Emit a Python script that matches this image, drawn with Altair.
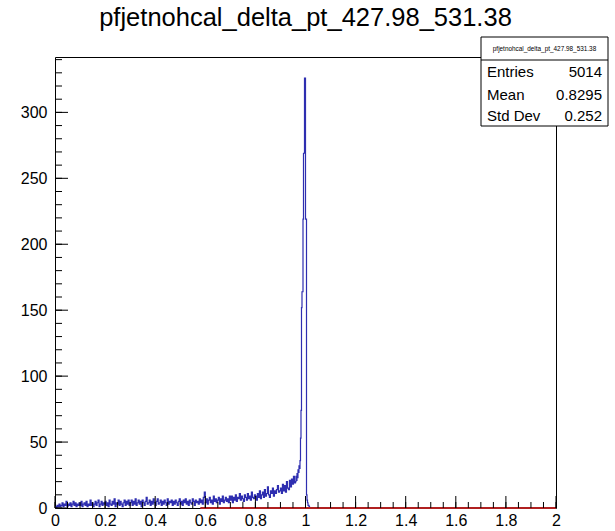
import altair as alt
import pandas as pd

# ---------------- data ----------------
hist_title = "pfjetnohcal_delta_pt_427.98_531.38"

# bins of width 0.004 from 0.00 to 0.96 (bin heights)
coarse_width = 0.004
coarse_counts = [
    1, 0, 2, 1, 3, 1, 2, 4, 1, 3, 2, 5, 1, 3, 2, 4, 1, 3, 5, 2, 4, 1, 3, 2, 4,
    2, 5, 1, 3, 4, 2, 5, 1, 3, 2, 6, 2, 4, 1, 3, 5, 2, 4, 6, 1, 3, 5, 2, 4, 3,
    5, 2, 4, 1, 6, 3, 2, 5, 3, 7, 1, 4, 3, 6, 2, 5, 3, 1, 4, 6, 2, 5, 3, 6, 2,
    4, 6, 2, 5, 3, 7, 2, 4, 6, 3, 5, 1, 6, 4, 2, 5, 8, 3, 4, 6, 2, 5, 3, 7, 4,
    2, 5, 7, 3, 4, 6, 2, 5, 3, 6, 4, 2, 7, 3, 5, 4, 6, 2, 5, 3, 6, 4, 2, 5, 7,
    3, 5, 2, 6, 4, 7, 3, 5, 2, 6, 4, 3, 7, 5, 2, 6, 4, 5, 3, 7, 4, 6, 3, 8, 12,
    4, 7, 3, 6, 8, 4, 6, 3, 9, 5, 7, 4, 6, 8, 3, 7, 5, 9, 4, 6, 8, 5, 7, 4, 9,
    6, 9, 4, 8, 6, 10, 5, 8, 7, 11, 6, 9, 7, 5, 10, 8, 6, 11, 7, 9, 6, 12, 8, 7, 10,
    9, 6, 11, 8, 13, 7, 10, 12, 8, 14, 9, 11, 16, 10, 8, 13, 11, 15, 9, 13, 11, 14, 17, 12, 13,
    15, 11, 18, 13, 17, 12, 20, 15, 14, 21, 16, 22, 18, 24, 19,
]
# bins of width 0.002 from 0.96 to 1.02 (peak region)
fine_start = 0.96
fine_width = 0.002
fine_counts = [
    20, 24, 21, 26, 23, 29, 27, 32, 30, 36,
    53, 74, 152, 164, 164, 219, 269, 269, 326, 326,
    219, 219, 10, 6, 4, 2, 2, 1, 0, 0,
]
x_min, x_max = 0.0, 2.0
y_max = 342

# red line lying on the x axis
red_x = [0.58, 2.0]
red_y = [0, 0]

# axis ticks / labels
x_major = [0, 0.2, 0.4, 0.6, 0.8, 1.0, 1.2, 1.4, 1.6, 1.8, 2.0]
x_minor = [i * 0.05 for i in range(41)]
y_major = [0, 50, 100, 150, 200, 250, 300]
y_minor = [i * 10 for i in range(35)]

# stats box
stat_names = ["Entries", "Mean", "Std Dev"]
stat_values = ["5014", "0.8295", "0.252"]

# ---------------- build ----------------
W, H = 501, 451
FONT = "Liberation Sans"

xs, ys = [], []
for i, c in enumerate(coarse_counts):
    xs.append(i * coarse_width)
    ys.append(c)
for i, c in enumerate(fine_counts):
    xs.append(fine_start + i * fine_width)
    ys.append(c)
xs.append(fine_start + len(fine_counts) * fine_width)
ys.append(0)
xs.append(x_max)
ys.append(0)
hist = pd.DataFrame({"x": xs, "y": ys})

xscale = alt.Scale(domain=[x_min, x_max], nice=False, zero=False)
yscale = alt.Scale(domain=[0, y_max], nice=False)

xaxis = alt.Axis(values=x_major, format="~g", title=None, grid=False, ticks=False,
                 domain=False, labelFont=FONT, labelFontSize=16, labelColor="black",
                 labelPadding=4, labelFlush=False, labelOverlap=False, labelBound=False)
yaxis = alt.Axis(values=y_major, format="d", title=None, grid=False, ticks=False,
                 domain=False, labelFont=FONT, labelFontSize=16, labelColor="black",
                 labelPadding=8, labelFlush=False, labelOverlap=False, labelBound=False)

line = alt.Chart(hist).mark_line(interpolate="step-after", color="#2e2eb0", strokeWidth=1.2).encode(
    x=alt.X("x:Q", scale=xscale, axis=xaxis),
    y=alt.Y("y:Q", scale=yscale, axis=yaxis),
)

red = alt.Chart(pd.DataFrame({"x": red_x, "y": red_y})).mark_line(color="#b02020", strokeWidth=2).encode(
    x=alt.X("x:Q", scale=xscale), y=alt.Y("y:Q", scale=yscale)
)

xmaj = alt.Chart(pd.DataFrame({"v": x_major})).mark_rule(color="black", strokeWidth=1).encode(
    x=alt.X("v:Q", scale=xscale), y=alt.value(H), y2=alt.value(H - 12)
)
xmin_ = alt.Chart(pd.DataFrame({"v": x_minor})).mark_rule(color="black", strokeWidth=1).encode(
    x=alt.X("v:Q", scale=xscale), y=alt.value(H), y2=alt.value(H - 6)
)
ymaj = alt.Chart(pd.DataFrame({"v": y_major})).mark_rule(color="black", strokeWidth=1).encode(
    y=alt.Y("v:Q", scale=yscale), x=alt.value(0), x2=alt.value(13)
)
ymin_ = alt.Chart(pd.DataFrame({"v": y_minor})).mark_rule(color="black", strokeWidth=1).encode(
    y=alt.Y("v:Q", scale=yscale), x=alt.value(0), x2=alt.value(7)
)

one = pd.DataFrame({"a": [0]})
box_l, box_r, box_t, box_b = 426, 553, -20, 69
box = alt.Chart(one).mark_rect(fill="white", stroke="black", strokeWidth=1).encode(
    x=alt.value(box_l), x2=alt.value(box_r), y=alt.value(box_t), y2=alt.value(box_b)
)
sep = alt.Chart(one).mark_rule(color="black", strokeWidth=1).encode(
    x=alt.value(box_l), x2=alt.value(box_r), y=alt.value(3)
)
head = alt.Chart(pd.DataFrame({"t": [hist_title]})).mark_text(
    font=FONT, fontSize=6.4, align="center", baseline="middle", color="black"
).encode(text="t:N", x=alt.value((box_l + box_r) / 2), y=alt.value(-8))

row_y = [15, 38, 59]
stat_layers = []
for name, val, ry in zip(stat_names, stat_values, row_y):
    d = pd.DataFrame({"name": [name], "val": [val]})
    stat_layers.append(
        alt.Chart(d).mark_text(font=FONT, fontSize=15, align="left", baseline="middle", color="black")
        .encode(text="name:N", x=alt.value(box_l + 6), y=alt.value(ry))
    )
    stat_layers.append(
        alt.Chart(d).mark_text(font=FONT, fontSize=15, align="right", baseline="middle", color="black")
        .encode(text="val:N", x=alt.value(box_r - 6), y=alt.value(ry))
    )

chart = alt.layer(line, red, xmaj, xmin_, ymaj, ymin_, box, sep, head, *stat_layers).properties(
    width=W, height=H,
    background="white",
    title=alt.TitleParams(hist_title, font=FONT, fontSize=25.5, fontWeight="normal",
                          anchor="middle", color="black", offset=5),
    padding={"left": 55, "top": 57, "right": 59, "bottom": 23},
    autosize=alt.AutoSizeParams(type="none"),
).configure_view(stroke="black", strokeWidth=1)

chart.save("out.html", embed_options={"renderer": "svg", "actions": False})
